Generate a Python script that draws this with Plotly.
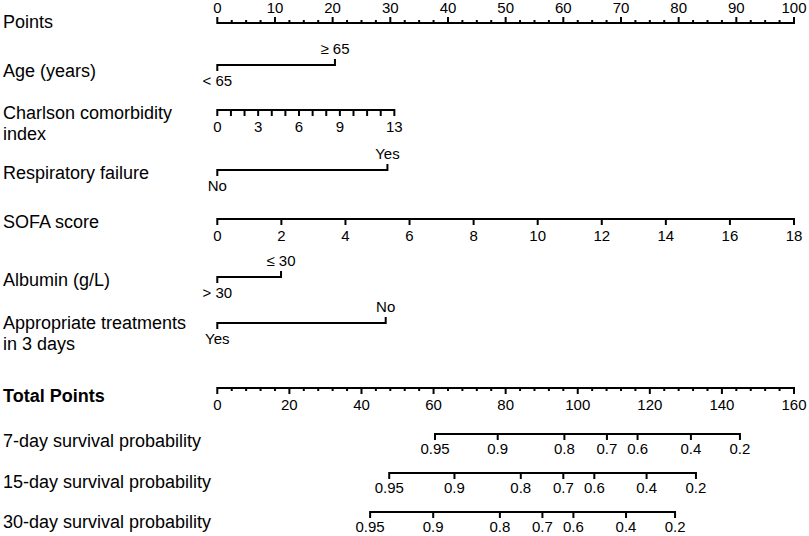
import plotly.graph_objects as go

# ---------------- data ----------------
# Points scale
points_major = [0, 10, 20, 30, 40, 50, 60, 70, 80, 90, 100]
points_minor_step = 2.5

# Age (years)
age_levels = ["< 65", "\u2265 65"]
age_points = [0, 20.4]

# Charlson comorbidity index (own unit scale: 13 units = 30.7 points)
cci_max_value = 13
cci_max_points = 30.7
cci_labels = [0, 3, 6, 9, 13]

# Respiratory failure
resp_levels = ["No", "Yes"]
resp_points = [0, 29.5]

# SOFA score (own unit scale: 18 units = 100 points)
sofa_max_value = 18
sofa_max_points = 100
sofa_labels = [0, 2, 4, 6, 8, 10, 12, 14, 16, 18]

# Albumin (g/L)
alb_levels = ["> 30", "\u2264 30"]
alb_points = [0, 11.05]

# Appropriate treatments in 3 days
treat_levels = ["Yes", "No"]
treat_points = [0, 29.2]

# Total points scale
total_major = [0, 20, 40, 60, 80, 100, 120, 140, 160]
total_minor_step = 4

# Survival probabilities -> total points positions
surv_labels = ["0.95", "0.9", "0.8", "0.7", "0.6", "0.4", "0.2"]
surv7_total = [60.4, 77.8, 96.3, 108.1, 116.6, 131.4, 145.0]
surv15_total = [47.7, 65.8, 84.2, 96.0, 104.6, 119.1, 132.8]
surv30_total = [42.4, 59.9, 78.4, 90.2, 98.8, 113.4, 127.0]

row_labels = [
    ("Points", 22, False),
    ("Age (years)", 71, False),
    ("Charlson comorbidity", 113, False),
    ("index", 134, False),
    ("Respiratory failure", 173, False),
    ("SOFA score", 222, False),
    ("Albumin (g/L)", 280, False),
    ("Appropriate treatments", 323, False),
    ("in 3 days", 344, False),
    ("Total Points", 396, True),
    ("7-day survival probability", 441, False),
    ("15-day survival probability", 482, False),
    ("30-day survival probability", 522, False),
]

# ---------------- layout constants ----------------
W, H = 809, 536
PX0, PX1 = 217.3, 794.0          # pixel x of 0 and 100 points
PPX = (PX1 - PX0) / 100.0
P_LO = -PX0 / PPX
P_HI = (W - PX0) / PPX

Y_POINTS, Y_AGE, Y_CCI, Y_RESP, Y_SOFA = 23, 65, 110, 170, 219
Y_ALB, Y_TREAT, Y_TOTAL = 277, 323, 388
Y_S7, Y_S15, Y_S30 = 434, 473, 512

FONT = "Liberation Sans, Arial, Helvetica, sans-serif"
TICK_FS = 15
LABEL_FS = 18
LW = 2
MAJ, MIN = 6, 3
LAB_OFF = 17


def axis_range(units_per_point):
    return [P_LO * units_per_point, P_HI * units_per_point]


fig = go.Figure()


def add_scale(axis, y, major, major_len, minor=None, minor_len=None,
              labels=None, label_text=None, label_off=LAB_OFF):
    """Horizontal scale line with ticks (len>0 goes down, <0 goes up)."""
    x0, x1 = min(major), max(major)
    xs = [x0, x0, x1, x1, None]
    ys = [y + major_len, y, y, y + major_len, None]
    for t in major[1:-1]:
        xs += [t, t, None]
        ys += [y, y + major_len, None]
    if minor:
        for t in minor:
            if t not in major:
                xs += [t, t, None]
                ys += [y, y + minor_len, None]
    fig.add_trace(go.Scatter(x=xs, y=ys, xaxis=axis, yaxis="y", mode="lines",
                             line=dict(color="black", width=LW),
                             hoverinfo="skip", showlegend=False))
    if labels is not None:
        sign = 1 if major_len > 0 else -1
        fig.add_trace(go.Scatter(
            x=labels, y=[y + sign * label_off] * len(labels),
            xaxis=axis, yaxis="y", mode="text",
            text=label_text if label_text is not None else [str(v) for v in labels],
            textposition="middle center",
            textfont=dict(family=FONT, size=TICK_FS, color="black"),
            hoverinfo="skip", showlegend=False, cliponaxis=False))


def add_categorical(y, pts, levels):
    xs = [pts[0], pts[0], pts[1], pts[1]]
    ys = [y + MAJ, y, y, y - MAJ]
    fig.add_trace(go.Scatter(x=xs, y=ys, xaxis="x", yaxis="y", mode="lines",
                             line=dict(color="black", width=LW),
                             hoverinfo="skip", showlegend=False))
    fig.add_trace(go.Scatter(
        x=pts, y=[y + LAB_OFF, y - 15], xaxis="x", yaxis="y", mode="text",
        text=levels, textposition="middle center",
        textfont=dict(family=FONT, size=TICK_FS, color="black"),
        hoverinfo="skip", showlegend=False, cliponaxis=False))


def steps(lo, hi, step):
    out, v = [], lo
    while v <= hi + 1e-9:
        out.append(round(v, 6))
        v += step
    return out


# Points
add_scale("x", Y_POINTS, points_major, -MAJ,
          minor=steps(0, 100, points_minor_step), minor_len=-MIN,
          labels=points_major, label_off=14)
# Age
add_categorical(Y_AGE, age_points, age_levels)
# Charlson
add_scale("x3", Y_CCI, list(range(cci_max_value + 1)), MAJ,
          labels=cci_labels, label_off=18)
# Respiratory failure
add_categorical(Y_RESP, resp_points, resp_levels)
# SOFA
add_scale("x4", Y_SOFA, sofa_labels, MAJ, labels=sofa_labels, label_off=18)
# Albumin
add_categorical(Y_ALB, alb_points, alb_levels)
# Treatment
add_categorical(Y_TREAT, treat_points, treat_levels)
# Total points
add_scale("x2", Y_TOTAL, total_major, MAJ,
          minor=steps(0, 160, total_minor_step), minor_len=MIN,
          labels=total_major, label_off=18)
# Survival scales
add_scale("x2", Y_S7, surv7_total, MAJ, labels=surv7_total,
          label_text=surv_labels, label_off=16)
add_scale("x2", Y_S15, surv15_total, MAJ, labels=surv15_total,
          label_text=surv_labels, label_off=16)
add_scale("x2", Y_S30, surv30_total, MAJ, labels=surv30_total,
          label_text=surv_labels, label_off=16)

annotations = []
for text, yv, bold in row_labels:
    annotations.append(dict(
        text=("<b>%s</b>" % text) if bold else text,
        x=0, xref="paper", xanchor="left", xshift=1,
        y=yv, yref="y", yanchor="middle",
        showarrow=False,
        font=dict(family=FONT, size=LABEL_FS, color="black")))

hidden = dict(visible=False, showgrid=False, zeroline=False, fixedrange=True)
fig.update_layout(
    width=W, height=H,
    margin=dict(l=0, r=0, t=0, b=0),
    paper_bgcolor="white", plot_bgcolor="white",
    showlegend=False,
    xaxis=dict(range=axis_range(1.0), domain=[0, 1], **hidden),
    xaxis2=dict(range=axis_range(160 / 100), overlaying="x", anchor="y", **hidden),
    xaxis3=dict(range=axis_range(cci_max_value / cci_max_points),
                overlaying="x", anchor="y", **hidden),
    xaxis4=dict(range=axis_range(sofa_max_value / sofa_max_points),
                overlaying="x", anchor="y", **hidden),
    yaxis=dict(range=[H, 0], domain=[0, 1], **hidden),
    annotations=annotations,
)

fig.write_html("out.html", config={"displayModeBar": False},
               post_script="document.body.style.margin='0';")
